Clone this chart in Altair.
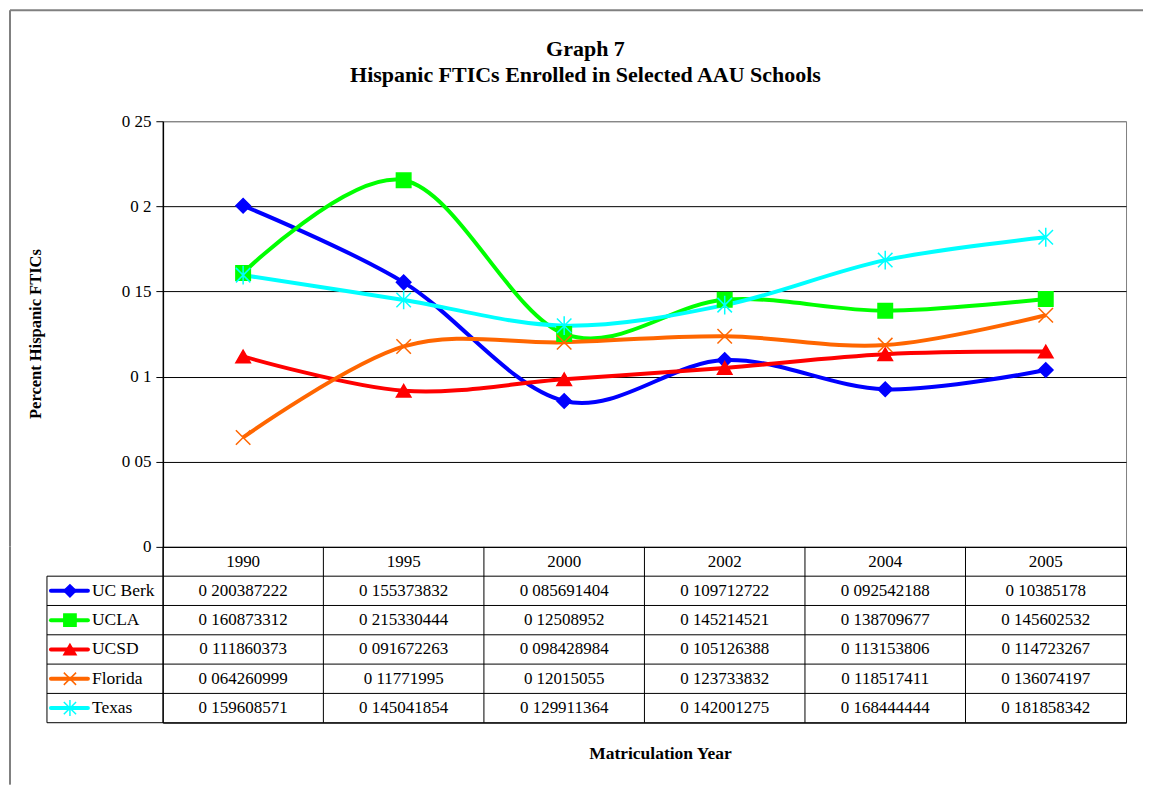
import altair as alt
import pandas as pd

years = ["1990", "1995", "2000", "2002", "2004", "2005"]
series = ["UC Berk", "UCLA", "UCSD", "Florida", "Texas"]
uc_berk = [0.200387222, 0.155373832, 0.085691404, 0.109712722, 0.092542188, 0.10385178]
ucla = [0.160873312, 0.215330444, 0.12508952, 0.145214521, 0.138709677, 0.145602532]
ucsd = [0.111860373, 0.091672263, 0.098428984, 0.105126388, 0.113153806, 0.114723267]
florida = [0.064260999, 0.11771995, 0.12015055, 0.123733832, 0.118517411, 0.136074197]
texas = [0.159608571, 0.145041854, 0.129911364, 0.142001275, 0.168444444, 0.181858342]
y_ticks = [0, 0.05, 0.1, 0.15, 0.2, 0.25]
title_lines = ["Graph 7", "Hispanic FTICs Enrolled in Selected AAU Schools"]
y_title = "Percent Hispanic FTICs"
x_title = "Matriculation Year"

values = [uc_berk, ucla, ucsd, florida, texas]
colors = ["#0000FF", "#00FF00", "#FF0000", "#FF6600", "#00FFFF"]
fills = ["#0000FF", "#00FF00", "#FF0000", "transparent", "transparent"]
X_PATH = "M-1,-1L1,1M1,-1L-1,1"
AST_PATH = "M-1,-1L1,1M1,-1L-1,1M0,-1.3L0,1.3"
shapes = ["diamond", "square", "triangle-up", X_PATH, AST_PATH]

FONT = "Liberation Serif"
W, H = 964, 426
TH = 176

rows = []
for s, vals in zip(series, values):
    for yr, v in zip(years, vals):
        rows.append({"series": s, "row": s, "year": yr, "value": v,
                     "label": repr(v).replace(".", " ")})
df = pd.DataFrame(rows)
one = pd.DataFrame({"a": [0]})

color = alt.Color("series:N", scale=alt.Scale(domain=series, range=colors), legend=None)
shape = alt.Shape("series:N", scale=alt.Scale(domain=series, range=shapes), legend=None)
fill = alt.Fill("series:N", scale=alt.Scale(domain=series, range=fills), legend=None)
stroke = alt.Stroke("series:N", scale=alt.Scale(domain=series, range=colors), legend=None)

# ---------- top: line plot ----------
xpt = alt.X("year:N", scale=alt.Scale(type="point", domain=years, padding=0.5), axis=None)
yv = alt.Y(
    "value:Q",
    scale=alt.Scale(domain=[0, 0.25], nice=False, zero=True),
    axis=alt.Axis(
        values=y_ticks,
        labelExpr="replace(format(datum.value, '.2~f'), '.', ' ')",
        grid=True,
        gridColor={"condition": {"test": "datum.value >= 0.25", "value": "#808080"}, "value": "black"},
        gridWidth=1,
        domainColor="black",
        domainWidth=1.5,
        tickColor="black",
        tickSize=7,
        labelFont=FONT,
        labelFontSize=17,
        labelColor="black",
        labelPadding=5,
        title=None,
    ),
)

lines = alt.Chart(df).mark_line(interpolate="cardinal", tension=0, strokeWidth=4).encode(
    x=xpt, y=yv, color=color
)
points = alt.Chart(df).mark_point(size=210, strokeWidth=1.5, opacity=1).encode(
    x=xpt, y=yv, shape=shape, fill=fill, stroke=stroke
)

border_h = alt.Chart(one).mark_rule(color="#808080", strokeWidth=2).encode(
    x=alt.value(-153), x2=alt.value(981), y=alt.value(-111)
)
border_v = alt.Chart(one).mark_rule(color="#808080", strokeWidth=2).encode(
    x=alt.value(-153), y=alt.value(-111), y2=alt.value(H)
)

t1 = alt.Chart(pd.DataFrame({"t": [title_lines[0]]})).mark_text(
    font=FONT, fontSize=22, fontWeight="bold", color="black", baseline="middle"
).encode(text="t:N", x=alt.value(423), y=alt.value(-72))
t2 = alt.Chart(pd.DataFrame({"t": [title_lines[1]]})).mark_text(
    font=FONT, fontSize=22, fontWeight="bold", color="black", baseline="middle"
).encode(text="t:N", x=alt.value(423), y=alt.value(-46))
ytit = alt.Chart(pd.DataFrame({"t": [y_title]})).mark_text(
    font=FONT, fontSize=16.5, fontWeight="bold", color="black", baseline="middle", angle=270
).encode(text="t:N", x=alt.value(-127), y=alt.value(213))

top = alt.layer(border_h, border_v, lines, points, t1, t2, ytit).properties(
    width=W, height=H, view=alt.ViewBackground(stroke="#808080", strokeWidth=1)
)

# ---------- bottom: data table ----------
row_keys = ["hdr"] + series
xscale = alt.Scale(type="band", domain=years, paddingInner=0, paddingOuter=0)
yscale = alt.Scale(type="band", domain=row_keys, paddingInner=0, paddingOuter=0)
xb = alt.X("year:N", scale=xscale, axis=None, bandPosition=0.5)
yr = alt.Y("row:N", scale=yscale, axis=None, bandPosition=0.5)

hdr_df = pd.DataFrame({"year": years, "row": ["hdr"] * len(years)})
rows_df = pd.DataFrame({"row": row_keys})
ser_df = pd.DataFrame({"series": series, "row": series})

txt_vals = alt.Chart(df).mark_text(font=FONT, fontSize=17, color="black", baseline="middle").encode(
    x=xb, y=yr, text="label:N"
)
txt_hdr = alt.Chart(hdr_df).mark_text(font=FONT, fontSize=17, color="black", baseline="middle").encode(
    x=xb, y=yr, text="year:N"
)
vlines = alt.Chart(hdr_df).mark_rule(color="black", strokeWidth=1).encode(
    x=alt.X("year:N", scale=xscale, axis=None, bandPosition=0), y=alt.value(0), y2=alt.value(TH)
)
hlines = alt.Chart(rows_df).mark_rule(color="black", strokeWidth=1).encode(
    y=alt.Y("row:N", scale=yscale, axis=None, bandPosition=1), x=alt.value(-116), x2=alt.value(W)
)
leg_left = alt.Chart(pd.DataFrame({"row": ["hdr"]})).mark_rule(color="black", strokeWidth=1).encode(
    x=alt.value(-116), y=alt.Y("row:N", scale=yscale, axis=None, bandPosition=1), y2=alt.value(TH)
)
swatch = alt.Chart(ser_df).mark_rule(strokeWidth=4, strokeCap="round").encode(
    x=alt.value(-112), x2=alt.value(-75), y=yr, color=color
)
swatch_pt = alt.Chart(ser_df).mark_point(size=150, strokeWidth=1.5, opacity=1).encode(
    x=alt.value(-93), y=yr, shape=shape, fill=fill, stroke=stroke
)
names = alt.Chart(ser_df).mark_text(font=FONT, fontSize=17.5, color="black", align="left", baseline="middle").encode(
    x=alt.value(-71), y=yr, text="series:N"
)
xtit = alt.Chart(pd.DataFrame({"t": [x_title]})).mark_text(
    font=FONT, fontSize=17.5, fontWeight="bold", color="black", baseline="middle"
).encode(text="t:N", x=alt.value(498), y=alt.value(207))
border_v2 = alt.Chart(one).mark_rule(color="#808080", strokeWidth=2).encode(
    x=alt.value(-153), y=alt.value(0), y2=alt.value(238)
)

table = alt.layer(
    vlines, hlines, leg_left, txt_hdr, txt_vals, swatch, swatch_pt, names, xtit, border_v2
).properties(width=W, height=TH, view=alt.ViewBackground(stroke="black", strokeWidth=1))

chart = alt.vconcat(top, table, spacing=0, bounds="flush").properties(
    padding=0, background="white"
)

chart.save("out.html", embed_options={"renderer": "svg", "actions": False})
